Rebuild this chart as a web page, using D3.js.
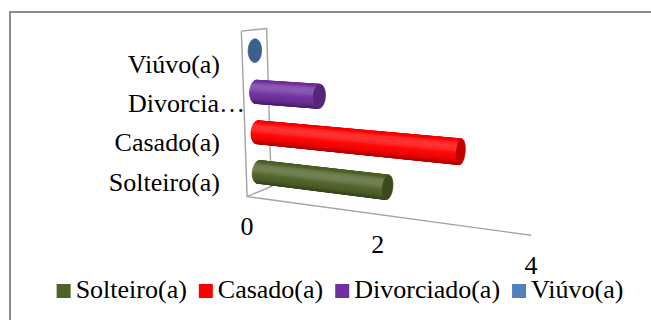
<!DOCTYPE html>
<html>
<head>
<meta charset="utf-8">
<script src="https://cdn.jsdelivr.net/npm/d3@7"></script>
<style>
  html, body { margin: 0; padding: 0; background: #fff; }
  svg { display: block; font-family: "Liberation Serif", "Times New Roman", serif; }
</style>
</head>
<body>
<svg id="chart" width="651" height="320"></svg>
<script>
// ---- data ----
const categories = ["Solteiro(a)", "Casado(a)", "Divorciado(a)", "Viúvo(a)"];
const axisLabels = ["Solteiro(a)", "Casado(a)", "Divorcia…", "Viúvo(a)"];
const values = [2, 3, 1, 0];
const seriesColors = ["#4f6228", "#ff0000", "#7030a0", "#4f81bd"];
const xTicks = [0, 2, 4];
const xMax = 4;

// ---- 3D box (world units) ----
const W = 300, H = 170, D = 45, R = 12;
const x = d3.scaleLinear().domain([0, xMax]).range([0, W]);
const y = d3.scaleBand().domain(categories).range([0, H]);

// ---- camera ----
const yaw = 25 * Math.PI / 180, pitch = 11 * Math.PI / 180;
const focal = 815, dist = 792, cx = 391, cy = 132;
const target = [W / 2, 75, 30];

function rot(v) {
  const [X, Y, Z] = v;
  const x1 = X * Math.cos(yaw) + Z * Math.sin(yaw);
  const z1 = -X * Math.sin(yaw) + Z * Math.cos(yaw);
  const y2 = Y * Math.cos(pitch) + z1 * Math.sin(pitch);
  const z2 = z1 * Math.cos(pitch) - Y * Math.sin(pitch);
  return [x1, y2, z2];
}
function cam(p) {
  const r = rot([p[0] - target[0], p[1] - target[1], p[2] - target[2]]);
  return [r[0], r[1], r[2] + dist];
}
function proj(p) {
  const c = cam(p);
  return [cx + focal * c[0] / c[2], cy - focal * c[1] / c[2]];
}

const lightDir = (() => { const v = [-0.25, 0.6, -0.75]; const n = Math.hypot(...v); return v.map(d => d / n); })();
function lambert(n) { return Math.max(0, n[0] * lightDir[0] + n[1] * lightDir[1] + n[2] * lightDir[2]); }

function shadeScale(base) {
  const c = d3.color(base);
  return d3.scaleLinear()
    .domain([0, 0.45, 0.8, 1])
    .range([c.darker(1.0).formatHex(), c.darker(0.25).formatHex(), c.formatHex(), d3.interpolateRgb(base, "#ffffff")(0.22)])
    .clamp(true);
}

const svg = d3.select("#chart");
const line = d3.line();

// outer frame
svg.append("rect")
  .attr("x", 10).attr("y", 12).attr("width", 700).attr("height", 400)
  .attr("fill", "none").attr("stroke", "#8c8c8c").attr("stroke-width", 2);

// back wall and floor edge
const wall = [[0, H, 0], [0, 0, 0], [0, 0, D], [0, H, D], [0, H, 0]].map(proj);
svg.append("path").attr("d", line(wall))
  .attr("fill", "none").attr("stroke", "#a3a3a3").attr("stroke-width", 1.4);
svg.append("path").attr("d", line([proj([x(0), 0, 0]), proj([x(xMax), 0, 0])]))
  .attr("fill", "none").attr("stroke", "#a3a3a3").attr("stroke-width", 1.4);

// cylinders, farthest first
const N = 96;
const barsG = svg.append("g");
d3.range(categories.length).reverse().forEach(i => {
  const yc = y(categories[i]) + y.bandwidth() / 2;
  const zc = D / 2;
  const len = x(values[i]);
  const col = shadeScale(seriesColors[i]);
  const g = barsG.append("g");
  if (len > 0) {
    for (let k = 0; k < N; k++) {
      const a0 = 2 * Math.PI * k / N, a1 = 2 * Math.PI * (k + 1) / N, am = (a0 + a1) / 2;
      const n = [0, Math.cos(am), Math.sin(am)];
      const mid = cam([len / 2, yc + R * Math.cos(am), zc + R * Math.sin(am)]);
      const nc = rot(n);
      if (nc[0] * mid[0] + nc[1] * mid[1] + nc[2] * mid[2] >= 0) continue;
      const pts = [
        [0, yc + R * Math.cos(a0), zc + R * Math.sin(a0)],
        [len, yc + R * Math.cos(a0), zc + R * Math.sin(a0)],
        [len, yc + R * Math.cos(a1), zc + R * Math.sin(a1)],
        [0, yc + R * Math.cos(a1), zc + R * Math.sin(a1)]
      ].map(proj);
      const fill = col(lambert(n));
      g.append("path").attr("d", line(pts) + "Z")
        .attr("fill", fill).attr("stroke", fill).attr("stroke-width", 0.6).attr("stroke-linejoin", "round");
    }
  }
  // end cap
  const cap = d3.range(N).map(k => {
    const a = 2 * Math.PI * k / N;
    return proj([len, yc + R * Math.cos(a), zc + R * Math.sin(a)]);
  });
  const capFill = col(lambert([1, 0, 0]) + 0.12);
  g.append("path").attr("d", line(cap) + "Z")
    .attr("fill", capFill).attr("stroke", d3.color(capFill).darker(0.3)).attr("stroke-width", 0.8);
});

// value tick labels
svg.append("g").selectAll("text").data(xTicks).join("text")
  .attr("x", d => proj([x(d), 0, 0])[0])
  .attr("y", d => proj([x(d), 0, 0])[1] + 38.5)
  .attr("text-anchor", "middle")
  .attr("font-size", 26).attr("fill", "#000")
  .text(d => d);

// category labels
const labelBase = d3.scalePoint().domain(categories).range([190.5, 72.5]);
svg.append("g").selectAll("text").data(categories).join("text")
  .attr("x", (d, i) => axisLabels[i].endsWith("…") ? 245 : 220)
  .attr("y", d => labelBase(d))
  .attr("text-anchor", "end")
  .attr("font-size", 26).attr("fill", "#000")
  .text((d, i) => axisLabels[i]);

// legend
const legend = svg.append("g");
let lx = 0;
categories.forEach((c, i) => {
  const g = legend.append("g");
  g.append("rect").attr("x", lx).attr("y", 284).attr("width", 14).attr("height", 14).attr("fill", seriesColors[i]);
  const t = g.append("text").attr("x", lx + 19).attr("y", 298).attr("font-size", 26).attr("fill", "#000").text(c);
  lx += 19 + t.node().getComputedTextLength() + 12;
});
const legendWidth = lx - 12;
legend.attr("transform", `translate(${340 - legendWidth / 2},0)`);
</script>
</body>
</html>
